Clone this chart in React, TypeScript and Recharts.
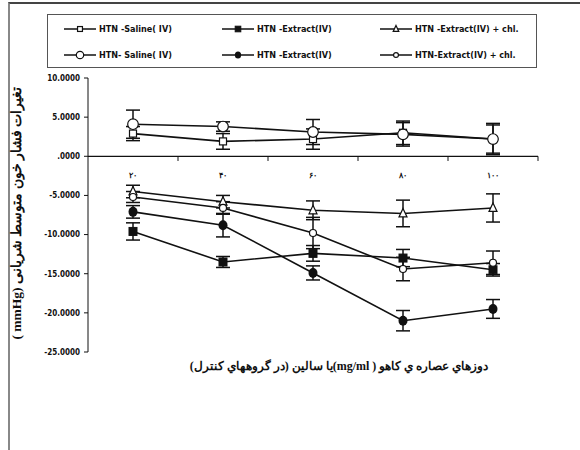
import { Label, Legend, Line, LineChart, ErrorBar, ReferenceDot, ReferenceLine, XAxis, YAxis } from "recharts";

const doses = ["۲۰", "۴۰", "۶۰", "۸۰", "۱۰۰"];
const yTicks = [10, 5, 0, -5, -10, -15, -20, -25];
const boundaries = [1.5, 2.5, 3.5, 4.5, 5.5];

const salineA = [2.9, 1.9, 2.2, 3.0, 2.2];
const salineAErr = [0.9, 1.0, 1.3, 1.5, 1.8];
const extractA = [-9.6, -13.5, -12.4, -13.0, -14.5];
const extractAErr = [1.1, 0.7, 1.0, 1.1, 0.8];
const extractChlA = [-4.5, -5.8, -6.9, -7.3, -6.6];
const extractChlAErr = [0.8, 0.8, 1.2, 1.7, 1.8];
const salineB = [4.1, 3.8, 3.1, 2.8, 2.2];
const salineBErr = [1.8, 0.6, 1.6, 1.5, 2.0];
const extractB = [-7.1, -8.8, -14.9, -21.0, -19.5];
const extractBErr = [0.8, 1.5, 0.9, 1.3, 1.2];
const extractChlB = [-5.2, -6.6, -9.8, -14.4, -13.6];
const extractChlBErr = [0.7, 0.8, 2.0, 1.5, 1.5];

const series = [
  { key: "salineA", name: "HTN -Saline( IV)", values: salineA, err: salineAErr, mark: "square" },
  { key: "extractA", name: "HTN -Extract(IV)", values: extractA, err: extractAErr, mark: "squareFill" },
  { key: "extractChlA", name: "HTN -Extract(IV) + chl.", values: extractChlA, err: extractChlAErr, mark: "triangle" },
  { key: "salineB", name: "HTN- Saline( IV)", values: salineB, err: salineBErr, mark: "circle" },
  { key: "extractB", name: "HTN -Extract(IV)", values: extractB, err: extractBErr, mark: "circleFill" },
  { key: "extractChlB", name: "HTN-Extract(IV) + chl.", values: extractChlB, err: extractChlBErr, mark: "circleSmall" },
];

const data = doses.map((dose, i) => {
  const row: Record<string, number | string> = { x: i + 1, dose };
  series.forEach((s) => {
    row[s.key] = s.values[i];
    row[s.key + "Err"] = s.err[i];
  });
  return row;
});

const INK = "#111";
const narrow = "'Liberation Sans Narrow', 'Arial Narrow', 'DejaVu Sans Condensed', sans-serif";
const serif = "'Liberation Serif', 'Times New Roman', 'DejaVu Serif', serif";
const tickDepth = 0.6;

function Marker({ kind, cx, cy, k = 1 }: { kind: string; cx: number; cy: number; k?: number }) {
  switch (kind) {
    case "square":
      return <rect x={cx - 3.5 * k} y={cy - 3.5 * k} width={7 * k} height={7 * k} fill="#fff" stroke={INK} strokeWidth={1.2} />;
    case "squareFill":
      return <rect x={cx - 4 * k} y={cy - 4 * k} width={8 * k} height={8 * k} fill={INK} stroke={INK} />;
    case "triangle":
      return (
        <polygon
          points={`${cx},${cy - 5 * k} ${cx + 4 * k},${cy + 3.5 * k} ${cx - 4 * k},${cy + 3.5 * k}`}
          fill="#fff"
          stroke={INK}
          strokeWidth={1.2}
        />
      );
    case "circle":
      return <circle cx={cx} cy={cy} r={5.3 * k} fill="#fff" stroke={INK} strokeWidth={1.2} />;
    case "circleFill":
      return <ellipse cx={cx} cy={cy} rx={4.5 * k} ry={5 * k} fill={INK} />;
    default:
      return <circle cx={cx} cy={cy} r={3.5 * k} fill="#fff" stroke={INK} strokeWidth={1.2} />;
  }
}

function LegendBox() {
  return (
    <div
      style={{
        boxSizing: "border-box",
        width: 490,
        height: 54,
        border: "1px solid #555",
        display: "grid",
        gridTemplateColumns: "158px 158px 158px",
        gridAutoRows: "16px",
        rowGap: 10,
        padding: "6px 0 0 16px",
        fontFamily: narrow,
        fontWeight: "bold",
        fontSize: 9,
        color: INK,
        background: "#fff",
      }}
    >
      {series.map((s) => (
        <div key={s.key} style={{ display: "flex", alignItems: "center", whiteSpace: "nowrap" }}>
          <svg width={32} height={14} style={{ marginRight: 3 }}>
            <line x1={0} x2={32} y1={7} y2={7} stroke={INK} strokeWidth={1.5} />
            <Marker kind={s.mark} cx={16} cy={7} k={0.7} />
          </svg>
          {s.name}
        </div>
      ))}
    </div>
  );
}

function YTitle(props: any) {
  const vb = props.viewBox;
  const x = vb.x + 8;
  const y = vb.y + vb.height / 2 - 2;
  return (
    <text
      x={x}
      y={y}
      transform={`rotate(-90 ${x} ${y})`}
      textAnchor="middle"
      dominantBaseline="central"
      direction="rtl"
      fontFamily={serif}
      fontWeight="bold"
      fontSize={13.5}
      fill={INK}
    >
      تغیرات فشار خون متوسط شریانی (mmHg )
    </text>
  );
}

function XTitle(props: any) {
  const vb = props.viewBox;
  return (
    <text
      x={vb.x + vb.width / 2 + 26}
      y={vb.y + 18}
      textAnchor="middle"
      direction="rtl"
      fontFamily={serif}
      fontWeight="bold"
      fontSize={12}
      fill={INK}
    >
      دوزهاي عصاره ي كاهو ( mg/ml)يا سالين (در گروههاي كنترل)
    </text>
  );
}

export default function App() {
  return (
    <div style={{ position: "absolute", left: 0, top: 0, width: 580, height: 450, background: "#fff" }}>
      <div
        style={{
          position: "absolute",
          left: 8,
          top: 2,
          width: 572,
          height: 448,
          borderTop: "2px solid #444",
          borderLeft: "2px solid #888",
        }}
      />
      <LineChart width={580} height={450} data={data} margin={{ top: 78, right: 42, bottom: 78, left: 8 }}>
        <XAxis
          dataKey="x"
          type="number"
          domain={[0.5, 5.5]}
          height={20}
          axisLine={false}
          tickLine={false}
          tick={false}
        >
          <Label content={XTitle} />
        </XAxis>
        <YAxis
          width={80}
          domain={[-25, 10]}
          ticks={yTicks}
          interval={0}
          tickSize={4}
          tickMargin={4}
          axisLine={{ stroke: INK }}
          tickLine={{ stroke: INK }}
          tick={{ fontFamily: narrow, fontWeight: "bold", fontSize: 8, fill: INK }}
          tickFormatter={(v: number) => (v === 0 ? ".0000" : v.toFixed(4))}
        >
          <Label content={YTitle} />
        </YAxis>
        <ReferenceLine y={0} stroke={INK} strokeWidth={1.2} />
        {boundaries.map((b) => (
          <ReferenceLine
            key={b}
            segment={[
              { x: b, y: 0 },
              { x: b, y: -tickDepth },
            ]}
            stroke={INK}
          />
        ))}
        {doses.map((d, i) => (
          <ReferenceDot
            key={d}
            x={i + 1}
            y={0}
            r={0}
            fill="none"
            stroke="none"
            label={{ value: d, position: "bottom", offset: 16, fontSize: 8, fontWeight: "bold", fill: INK }}
          />
        ))}
        <Legend
          layout="horizontal"
          verticalAlign="middle"
          align="center"
          wrapperStyle={{ top: 14, left: 47, width: 490, height: 54 }}
          content={LegendBox}
        />
        {series.map((s) => (
          <Line
            key={s.key}
            dataKey={s.key}
            name={s.name}
            stroke={INK}
            strokeWidth={1.6}
            isAnimationActive={false}
            activeDot={false}
            dot={(p: any) => <Marker key={`${s.key}-${p.index}`} kind={s.mark} cx={p.cx} cy={p.cy} />}
          >
            <ErrorBar dataKey={s.key + "Err"} width={7} stroke={INK} strokeWidth={1.5} direction="y" />
          </Line>
        ))}
      </LineChart>
    </div>
  );
}
